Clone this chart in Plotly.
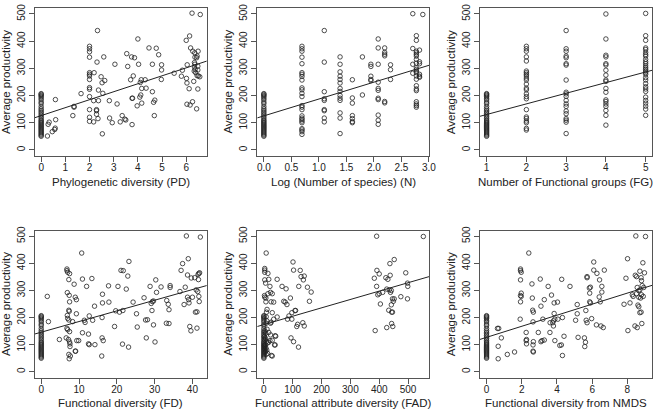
import plotly.graph_objects as go

# productivity of monocultures (x = 0, or 1 functional group)
mono_y = [207, 204, 200, 196, 190, 184, 176, 170, 160, 152, 146, 140, 134, 128, 122, 116,
          110, 106, 102, 98, 94, 90, 86, 82, 78, 74, 70, 66, 62, 58, 54, 50]

# panel 1: phylogenetic diversity
pd_x = [0.29, 0.33, 0.26, 0.46, 0.56, 0.58, 0.59, 0.6, 1.31, 1.36, 1.36, 1.65,
        2.0, 2.0, 2.0, 2.0, 2.0, 2.0, 2.0, 2.0, 2.0, 2.0, 2.0, 2.0, 2.0, 2.0,
        2.19, 2.17, 2.17, 2.33, 2.31, 2.29, 2.29, 2.29, 2.35, 2.37, 2.37,
        2.48, 2.52, 2.55, 2.63, 2.59, 2.53, 2.82, 2.83, 2.94, 3.05, 3.14, 3.27, 3.35, 3.46, 3.5,
        3.54, 3.58, 3.74, 3.86, 3.76, 3.78, 3.76, 3.81, 3.7,
        4.0, 3.97, 4.03, 4.1, 4.14, 4.16, 4.12, 4.08, 4.16, 4.3, 4.34,
        4.46, 4.6, 4.6, 4.65, 4.7, 4.68, 4.76, 4.86, 4.98, 4.98, 4.97,
        5.5, 5.84, 5.8, 6.0, 6.04, 6.01, 6.03, 6.03, 6.14, 6.18, 6.12, 6.16, 6.24, 6.58,
        6.26, 6.27, 6.31, 6.35, 6.36, 6.34, 6.36, 6.34, 6.37, 6.33, 6.39, 6.43, 6.45, 6.49,
        6.48, 6.43, 6.48, 6.48, 6.5, 6.56, 6.45]
pd_y = [94, 102, 51, 67, 75, 80, 185, 111, 126, 160, 157, 207,
        381, 372, 361, 341, 284, 278, 272, 259, 229, 223, 196, 148, 120, 105,
        284, 103, 181, 439, 323, 148, 144, 131, 115, 220, 181,
        269, 247, 208, 255, 342, 59, 181, 117, 100, 315, 169, 103, 126, 113, 110,
        354, 307, 342, 339, 190, 190, 93, 272, 258,
        408, 162, 315, 248, 258, 226, 202, 194, 172, 258, 227,
        375, 315, 214, 175, 183, 126, 374, 350, 313, 294, 259,
        282, 293, 271, 403, 313, 263, 246, 168, 419, 375, 225, 165, 503, 498,
        177, 363, 252, 357, 341, 321, 315, 305, 296, 290, 284, 339, 345, 363,
        224, 151, 308, 294, 272, 269, 273]

# panel 2: log number of species
logn_x = [0.693] * 25 + [1.099] * 9 + [1.386] * 14 + [1.609] * 7 + [1.792] * 2 + [1.946] * 5 + \
         [2.079] * 11 + [2.197] * 6 + [2.303] * 3 + [2.708] * 4 + [2.773] * 21 + [2.83] * 6 + [2.89]
logn_y = [381, 372, 363, 341, 317, 284, 278, 270, 257, 228, 221, 208, 196, 163, 157, 148, 125, 117,
          112, 106, 100, 78, 73, 67, 57,
          439, 323, 214, 188, 182, 148, 144, 117, 103,
          342, 315, 287, 271, 259, 246, 226, 215, 200, 190, 182, 136, 117, 60,
          258, 191, 172, 126, 115, 104, 100,
          342, 202,
          315, 307, 271, 259, 255,
          408, 375, 315, 249, 226, 219, 190, 185, 128, 109, 94,
          375, 359, 352, 346, 178, 173,
          313, 295, 259,
          501, 373, 315, 282,
          420, 403, 363, 357, 351, 345, 333, 319, 302, 296, 290, 284, 272, 260, 236, 224, 218,
          177, 169, 163, 157,
          367, 324, 317, 278, 271, 267,
          498]

# panel 3: number of functional groups
fg_x = [2] * 24 + [3] * 20 + [4] * 19 + [5] * 29
fg_y = [381, 372, 363, 342, 327, 290, 284, 278, 272, 264, 257, 242, 227, 221, 206, 196, 188, 148,
        121, 115, 106, 100, 79, 73,
        439, 372, 363, 345, 339, 317, 312, 257, 212, 206, 197, 182, 169, 160, 143, 133, 115, 109,
        102, 60,
        500, 408, 348, 342, 317, 312, 293, 275, 257, 252, 226, 212, 184, 178, 169, 160, 145, 127, 91,
        502, 420, 403, 375, 369, 359, 351, 345, 333, 324, 317, 309, 302, 296, 290, 284, 278, 266,
        257, 244, 232, 224, 215, 194, 182, 172, 161, 150, 127]

# panel 4: functional diversity
fd_x = [1.6, 1.9, 4.8, 6.8, 6.8, 7.0, 7.3, 7.5, 6.9, 7.4, 7.5, 7.3, 7.4, 6.9, 7.0, 7.3, 6.8, 7.0,
        7.5, 6.6, 7.2, 7.5, 7.6, 7.6, 7.3, 7.4, 7.7,
        8.3, 8.7, 9.0, 9.3, 9.3, 9.0, 9.1, 9.4, 9.9,
        10.7, 10.9, 10.9, 11.4, 11.6, 12.0, 12.5, 12.7, 12.5, 12.7, 13.4, 13.6, 14.1, 14.2,
        16.1, 16.2, 16.2, 16.1, 16.4, 16.0, 17.8, 17.9,
        19.4, 19.7, 20.3, 20.7, 21.1, 21.7, 21.6, 21.5, 22.5, 22.9, 23.1, 23.2, 24.3,
        25.2, 25.4, 27.2, 27.6, 27.8, 28.1, 28.8, 29.1, 29.3, 29.4, 29.7, 29.7, 30.1, 30.3, 30.5,
        31.7, 33.1, 33.2, 33.6, 33.8, 34.1, 34.1, 33.8,
        36.7, 37.0, 37.4, 37.8, 38.1, 38.4, 38.7, 38.7, 38.9, 39.0, 39.1, 39.3, 39.6, 39.7, 40.0,
        40.6, 40.8, 41.0, 41.2, 41.2, 41.4, 41.5, 41.6, 41.7, 41.9, 41.7, 41.8, 42.1]
fd_y = [278, 185, 119, 379, 373, 367, 340, 362, 292, 282, 258, 227, 223, 208, 197, 191, 160, 155,
        148, 125, 119, 110, 103, 93, 64, 48, 58,
        185, 323, 275, 266, 214, 76, 76, 115, 115,
        438, 342, 144, 190, 182, 315, 139, 206, 103, 100, 344, 190, 242, 100,
        200, 254, 286, 125, 115, 58, 317, 257,
        167, 225, 315, 220, 374, 373, 226, 102, 305, 353, 91, 407, 257,
        214, 165, 273, 191, 125, 192, 315, 252, 226, 259, 261, 173, 110, 339, 293,
        313, 179, 263, 249, 178, 318, 311, 229,
        296, 374, 399, 248, 312, 501, 357, 275, 417, 266, 254, 167, 151, 346, 275,
        347, 220, 302, 221, 161, 296, 359, 340, 363, 365, 278, 259, 497]

# panel 5: functional attribute diversity
fad_x = [8, 3, 3, 3, 3, 6, 7, 2, 3, 7, 11, 9, 8, 10, 8, 14, 17, 21, 14, 23, 25, 29, 34, 29, 25,
         23, 34, 46, 46, 39, 41, 37, 39, 26, 29, 17, 21, 17, 11, 23, 29,
         4, 6, 2, 5, 3, 9, 12, 5, 2, 4, 7, 3, 10, 6, 4, 13, 8,
         63, 77, 69, 74, 80, 87, 82, 92, 97, 97, 101, 103, 94, 103, 108, 110, 114, 117, 120, 121,
         126, 129, 137, 140, 135, 140, 151, 158, 164,
         383, 386, 391, 391, 392, 395, 400, 400, 404, 412, 423, 426, 426, 430, 433, 435, 437, 438,
         442, 439, 442, 443, 446, 443, 447, 446, 452, 452, 449, 475, 492, 498, 499, 498, 553]
fad_y = [438, 381, 375, 367, 339, 327, 272, 281, 275, 258, 230, 220, 203, 188, 179, 363, 341, 315,
         288, 293, 258, 288, 257, 218, 183, 179, 194, 341, 202, 133, 131, 99, 99, 60, 58, 145, 115,
         109, 157, 136, 116,
         150, 142, 130, 124, 118, 112, 106, 100, 96, 92, 88, 84, 80, 76, 72, 68, 64,
         315, 306, 260, 257, 248, 206, 194, 272, 218, 194, 405, 375, 125, 111, 226, 226, 167, 175,
         91, 315, 374, 351, 339, 353, 181, 169, 312, 260, 294,
         345, 152, 315, 500, 374, 284, 361, 288, 250, 293, 347, 305, 163, 341, 227, 302, 399, 356,
         300, 293, 247, 220, 220, 178, 167, 269, 414, 269, 260, 277, 365, 327, 315, 269, 499]

# panel 6: functional diversity from NMDS
nmds_x = [0.62, 0.69, 0.66, 0.66, 0.84, 1.18, 1.59,
          1.93, 1.93, 1.97, 1.93, 1.97, 1.93, 1.97, 1.93, 1.91,
          2.25, 2.27, 2.25, 2.27, 2.4, 2.58, 2.6, 2.62, 2.66, 2.64, 2.66, 2.64, 2.64, 2.66,
          2.94, 3.05, 3.09, 3.09, 3.15, 3.28, 3.2, 3.28, 3.5, 3.6, 3.61, 3.69, 3.76, 3.8, 3.84, 3.84,
          3.88, 3.8, 3.88, 4.03, 4.05, 4.16, 4.25, 4.27, 4.31, 4.4, 4.31, 4.74,
          5.06, 5.15, 5.15, 5.2, 5.56, 5.62, 5.58, 5.64, 5.66, 5.71, 5.71, 5.71, 5.84, 5.9, 5.86,
          5.9, 5.86, 5.97, 6.09, 6.09, 6.24, 6.27, 6.42, 6.4, 6.46, 6.5, 6.55, 6.55, 6.63, 6.69,
          7.81, 7.92, 8.01, 8.03, 8.15, 8.28, 8.33, 8.43, 8.45, 8.48, 8.52, 8.52, 8.56, 8.56, 8.6,
          8.65, 8.65, 8.71, 8.71, 8.71, 8.75, 8.78, 8.8, 8.78, 8.82, 8.84, 8.88, 8.9, 8.93, 8.97,
          9.03, 8.8, 8.65]
nmds_y = [160, 160, 94, 48, 125, 64, 73,
          379, 373, 367, 339, 290, 281, 278, 258, 194,
          145, 119, 115, 103, 438, 324, 272, 227, 220, 184, 111, 99, 76, 73,
          145, 342, 242, 111, 115, 266, 194, 117, 315, 145, 181, 283, 181, 188, 254, 215,
          194, 169, 115, 257, 194, 97, 99, 341, 200, 131, 60, 315,
          190, 248, 214, 127, 125, 109, 93, 226, 190, 351, 347, 181, 309, 312, 290,
          254, 258, 196, 405, 375, 173, 363, 339, 276, 258, 169, 315, 294, 163, 375,
          249, 345, 417, 152, 254, 284, 278, 169, 356, 501, 351, 288, 311, 163, 246,
          299, 240, 302, 371, 218, 272, 220, 284, 347, 178, 318, 402, 278, 311, 365,
          499, 336, 275]

# fitted lines: intercept, slope
fit_intercept = [126, 125, 91, 146, 174, 127]
fit_slope = [29.3, 62.0, 39.1, 3.93, 0.309, 20.4]

panels = [
    (pd_x + [0] * len(mono_y), pd_y + mono_y, "Phylogenetic diversity (PD)", [-0.27, 6.85], list(range(0, 7)), None),
    (logn_x + [0] * len(mono_y), logn_y + mono_y, "Log (Number of species) (N)", [-0.12, 3.01],
     [0, 0.5, 1, 1.5, 2, 2.5, 3], ".1f"),
    (fg_x + [1] * len(mono_y), fg_y + mono_y, "Number of Functional groups (FG)", [0.83, 5.16], [1, 2, 3, 4, 5], None),
    (fd_x + [0] * len(mono_y), fd_y + mono_y, "Functional diversity (FD)", [-1.75, 43.8], [0, 10, 20, 30, 40], None),
    (fad_x + [0] * len(mono_y), fad_y + mono_y, "Functional attribute diversity (FAD)", [-23, 574],
     [0, 100, 200, 300, 400, 500], None),
    (nmds_x + [0] * len(mono_y), nmds_y + mono_y, "Functional diversity from NMDS", [-0.38, 9.4], [0, 2, 4, 6, 8], None),
]

W, H = 661, 413
col_px = [(35, 209), (260, 434), (485, 659)]
row_px = [(3.3, 152.7), (228.3, 377.3)]
font = "Liberation Sans, Arial, sans-serif"
ink = "#222"

fig = go.Figure()
annotations = []
for i, (xs, ys, xtitle, xr, xt, fmt) in enumerate(panels):
    r, c = divmod(i, 3)
    n = "" if i == 0 else str(i + 1)
    xa, ya = "x" + n, "y" + n
    fig.add_trace(go.Scatter(x=xs, y=ys, mode="markers", xaxis=xa, yaxis=ya, showlegend=False,
                             marker=dict(symbol="circle-open", size=4.5, color=ink, line=dict(width=0.8))))
    lx = [xr[0], xr[1]]
    ly = [fit_intercept[i] + fit_slope[i] * v for v in lx]
    fig.add_trace(go.Scatter(x=lx, y=ly, mode="lines", xaxis=xa, yaxis=ya, showlegend=False,
                             line=dict(color=ink, width=1)))
    x0, x1 = col_px[c]
    y0, y1 = row_px[r]
    dom_x = [x0 / W, x1 / W]
    dom_y = [1 - y1 / H, 1 - y0 / H]
    common = dict(showgrid=False, zeroline=False, showline=True, mirror=True, linecolor="#555",
                  linewidth=1, ticks="outside", ticklen=5, tickcolor="#555",
                  tickfont=dict(family=font, size=10, color=ink))
    fig.layout["xaxis" + n] = dict(domain=dom_x, range=xr, tickvals=xt, anchor=ya,
                                   tickformat=fmt, ticklabelstandoff=-3, **common)
    fig.layout["yaxis" + n] = dict(domain=dom_y, range=[-22, 521], tickvals=[0, 100, 200, 300, 400, 500],
                                   tickangle=-90, anchor=xa, **common)
    annotations.append(dict(text=xtitle, xref="paper", yref="paper", x=(x0 + x1) / 2 / W,
                            y=1 - (y1 + 26) / H, showarrow=False, xanchor="center", yanchor="middle",
                            font=dict(family=font, size=11.5, color=ink)))
    annotations.append(dict(text="Average productivity", xref="paper", yref="paper",
                            x=(x0 - 29) / W, y=1 - (y0 + y1) / 2 / H, textangle=-90, showarrow=False,
                            xanchor="center", yanchor="middle",
                            font=dict(family=font, size=11.5, color=ink)))

fig.update_layout(width=W, height=H, margin=dict(l=0, r=0, t=0, b=0), paper_bgcolor="white",
                  plot_bgcolor="white", annotations=annotations)
# remove the page's default body margin so the figure fills the window
fig.write_html("out.html", config={"displayModeBar": False},
               post_script="document.body.style.margin='0';document.body.style.overflow='hidden';")
